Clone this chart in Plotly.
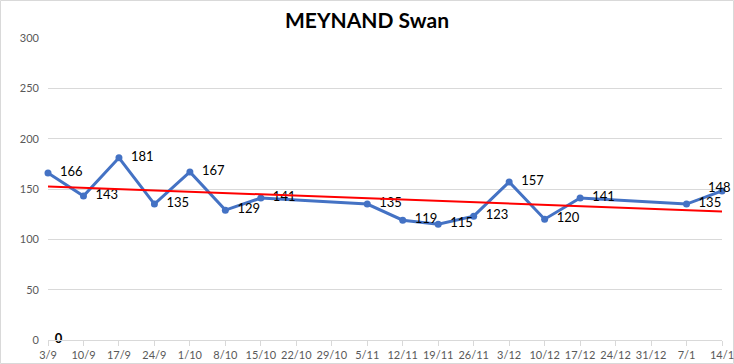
import numpy as np
import plotly.graph_objects as go

dates = ["3/9", "10/9", "17/9", "24/9", "1/10", "8/10", "15/10", "22/10", "29/10", "5/11",
         "12/11", "19/11", "26/11", "3/12", "10/12", "17/12", "24/12", "31/12", "7/1", "14/1"]
values = [166, 143, 181, 135, 167, 129, 141, None, None, 135,
          119, 115, 123, 157, 120, 141, None, None, 135, 148]
zero_series = [0]
zero_dates = ["3/9"]

# linear trend (over the data points, date index as x)
idx = [i for i, v in enumerate(values) if v is not None]
ys = [values[i] for i in idx]
slope, intercept = np.polyfit(idx, ys, 1)
trend_x = [dates[idx[0]], dates[idx[-1]]]
trend_y = [intercept + slope * idx[0], intercept + slope * idx[-1]]

FONT = "Lato, 'Noto Sans', sans-serif"
PAD = "\u00a0\u00a0"

last = idx[-1]
labels = [(PAD + str(v)) if (v is not None and i != last) else "" for i, v in enumerate(values)]

fig = go.Figure()
fig.add_trace(go.Scatter(
    x=dates, y=values, mode="lines+markers+text",
    text=labels,
    textposition="middle right",
    textfont=dict(family=FONT, size=13, color="#000000"),
    line=dict(color="#4472C4", width=3),
    marker=dict(color="#4472C4", size=7),
    connectgaps=True, cliponaxis=False, showlegend=False,
))
fig.add_trace(go.Scatter(
    x=trend_x, y=trend_y, mode="lines",
    line=dict(color="#FF0000", width=2),
    showlegend=False, hoverinfo="skip",
))
fig.add_trace(go.Scatter(
    x=zero_dates, y=zero_series, mode="text",
    text=[PAD + "<b>" + str(v) + "</b>" for v in zero_series],
    textposition="middle right",
    textfont=dict(family=FONT, size=13, color="#000000"),
    cliponaxis=False, showlegend=False,
))

L, R, T, B = 48, 12, 38, 24
W, H = 734, 364
pw, ph = W - L - R, H - T - B

fig.update_layout(
    width=W, height=H,
    margin=dict(l=L, r=R, t=T, b=B, autoexpand=False),
    paper_bgcolor="white", plot_bgcolor="white",
    title=dict(text="<b>MEYNAND Swan</b>", x=0.5, xanchor="center", y=1 - 21 / H, yanchor="middle",
               font=dict(family=FONT, size=21, color="#000000")),
    font=dict(family=FONT),
    xaxis=dict(
        type="category", categoryorder="array", categoryarray=dates,
        range=[0, len(dates) - 1],
        showgrid=False, showline=True, linecolor="#d9d9d9", linewidth=1,
        ticks="outside", ticklen=5, tickcolor="#d9d9d9",
        tickfont=dict(family=FONT, size=11, color="#595959"),
        zeroline=False, automargin=False,
    ),
    yaxis=dict(
        range=[0, 300], dtick=50,
        showgrid=True, gridcolor="#d9d9d9", gridwidth=1,
        zeroline=False, showline=False,
        tickfont=dict(family=FONT, size=11, color="#595959"),
        ticklabelstandoff=8, automargin=False,
    ),
    annotations=[dict(
        x=dates[last], y=values[last], xref="x", yref="y",
        text=str(values[last]), showarrow=False,
        xanchor="right", xshift=11, yshift=4,
        font=dict(family=FONT, size=13, color="#000000"),
    )],
    shapes=[dict(
        type="rect", xref="paper", yref="paper",
        x0=(0.5 - L) / pw, x1=(W - 0.5 - L) / pw,
        y0=(H - T - B - (H - 0.5 - T)) / ph, y1=(H - B - 0.5) / ph,
        line=dict(color="#d9d9d9", width=1), fillcolor="rgba(0,0,0,0)", layer="below",
    )],
)

fig.write_html("out.html", config={"displayModeBar": False},
               post_script="document.body.style.margin='0';document.body.style.overflow='hidden';")
